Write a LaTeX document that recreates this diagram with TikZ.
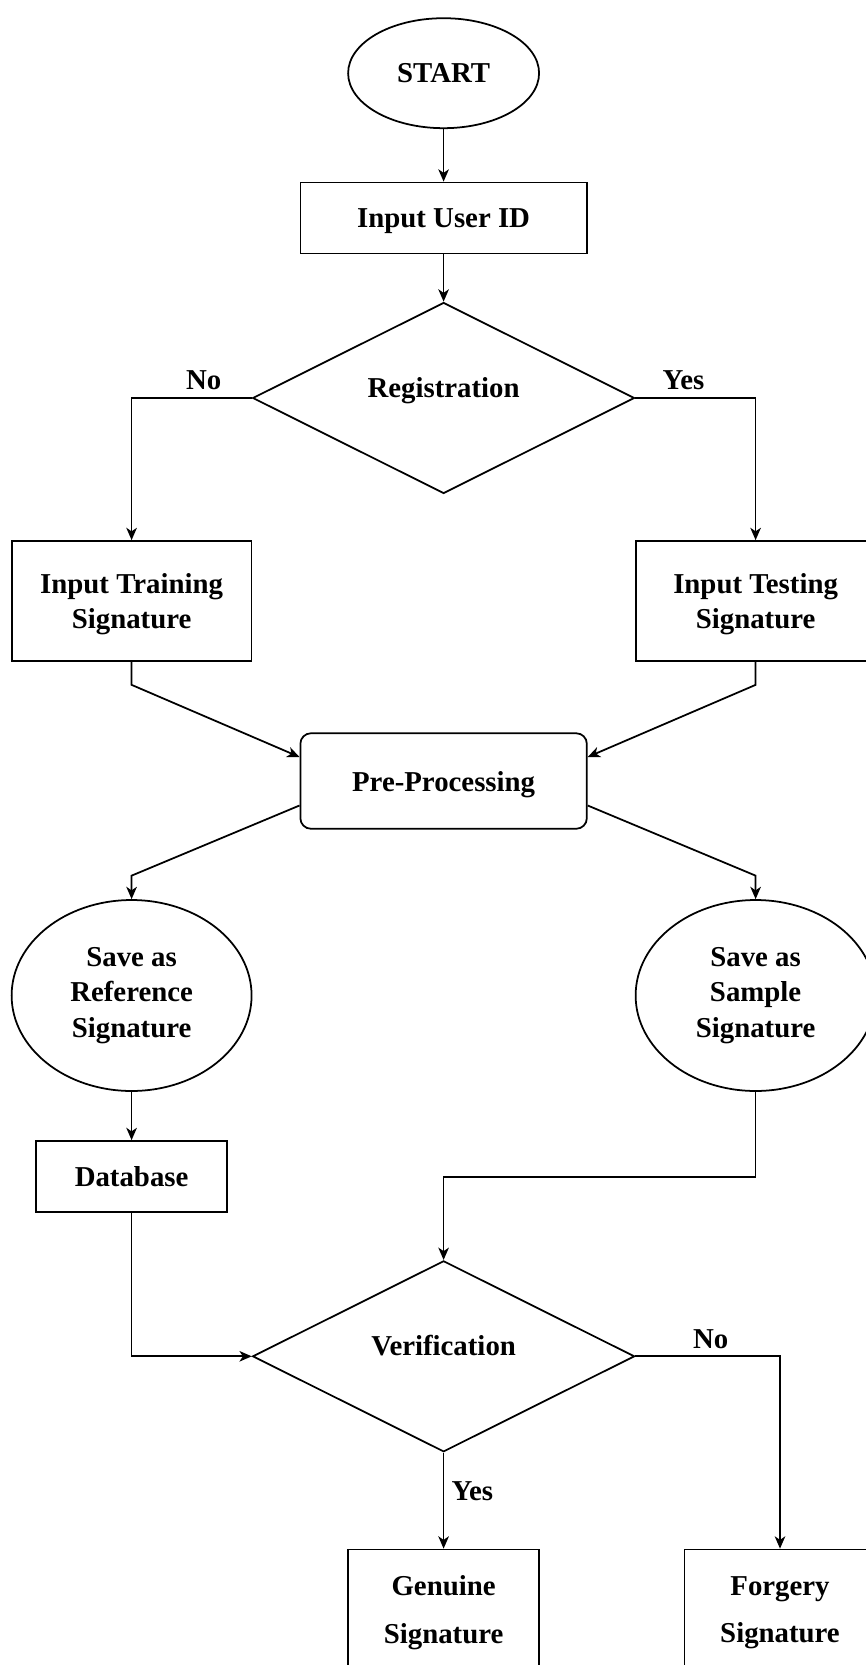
\documentclass[tikz,border=0pt]{standalone}
\usepackage{fontspec}
\setmainfont{Liberation Serif}
\usetikzlibrary{arrows.meta, shapes.geometric}
\tikzset{
  base/.style = {draw, line width=1pt, align=center, inner sep=2pt,
                 font=\fontsize{16.4}{20}\selectfont\bfseries},
  pbox/.style = {base, rectangle, text depth=0pt},
  rbox/.style = {base, rectangle, rounded corners=6pt, text depth=0pt},
  obox/.style = {base, rectangle, text depth=0pt,
                 font=\fontsize{16.4}{27}\selectfont\bfseries},
  term/.style = {base, ellipse},
  dec/.style  = {base, diamond, aspect=2, text height=0.4cm, text depth=0.42cm},
  arr/.style  = {-{Stealth[length=7pt, width=6pt, inset=2pt]}, line width=1pt},
  lbl/.style  = {font=\fontsize{16.4}{20}\selectfont\bfseries, inner sep=4pt},
}
\begin{document}
\begin{tikzpicture}[x=0.02cm, y=-0.02cm]

\useasboundingbox (0,0) rectangle (865,1665);

% ============================================================
%  Nodes (pixel grid, y grows downwards)
% ============================================================

\node[term, minimum width=3.82cm, minimum height=2.2cm]  (start) at (443.6,73.2) {START};
\node[pbox, minimum width=5.73cm, minimum height=1.42cm] (uid)   at (443.6,218)  {Input User ID};
\node[dec,  minimum width=7.64cm, minimum height=3.82cm] (reg)   at (443.6,398)  {Registration};

\node[pbox, minimum width=4.8cm, minimum height=2.4cm] (train) at (131.6,601) {Input Training\\Signature};
\node[pbox, minimum width=4.8cm, minimum height=2.4cm] (test)  at (755.6,601) {Input Testing\\Signature};

\node[rbox, minimum width=5.73cm, minimum height=1.91cm] (pre) at (443.6,781) {Pre-Processing};

\node[term, minimum width=4.8cm, minimum height=3.82cm] (ref)  at (131.6,995.5) {Save as\\Reference\\Signature};
\node[term, minimum width=4.8cm, minimum height=3.82cm] (samp) at (755.6,995.5) {Save as\\Sample\\Signature};

\node[pbox, minimum width=3.82cm, minimum height=1.42cm] (db) at (131.6,1176.5) {Database};

\node[dec, minimum width=7.64cm, minimum height=3.82cm] (ver) at (443.6,1356.3) {Verification};

\node[obox, minimum width=3.82cm, minimum height=2.4cm] (gen)  at (443.6,1609.5) {Genuine\\Signature};
\node[obox, minimum width=3.82cm, minimum height=2.4cm] (forg) at (780,1609.5)   {Forgery\\Signature};

% ============================================================
%  Connectors
% ============================================================

\draw[arr] (start) -- (uid);
\draw[arr] (uid) -- (reg);
\draw[arr] (reg.west) -| node[lbl, above, pos=0.2] (regno)  {No}  (train.north);
\draw[arr] (reg.east) -| node[lbl, above, pos=0.2] (regyes) {Yes} (test.north);

% into pre-processing
\draw[arr] (train.south) -- ([yshift=-0.46cm]train.south) -- ([yshift=0.48cm]pre.west);
\draw[arr] (test.south)  -- ([yshift=-0.46cm]test.south)  -- ([yshift=0.48cm]pre.east);

% out of pre-processing
\draw[arr] ([yshift=-0.49cm]pre.west) -- ([yshift=0.47cm]ref.north)  -- (ref.north);
\draw[arr] ([yshift=-0.49cm]pre.east) -- ([yshift=0.47cm]samp.north) -- (samp.north);

\draw[arr] (ref) -- (db);
\draw[arr] (samp.south) |- ([yshift=1.66cm]ver.north) -- (ver.north);
\draw[arr] (db.south) |- (ver.west);

% decision outputs
\draw[arr] (ver.east) -| node[lbl, above, pos=0.26] (verno) {No} (forg.north);
\draw[arr] (ver.south) -- node[lbl, right, pos=0.4] (veryes) {Yes} (gen.north);

\end{tikzpicture}
\end{document}
